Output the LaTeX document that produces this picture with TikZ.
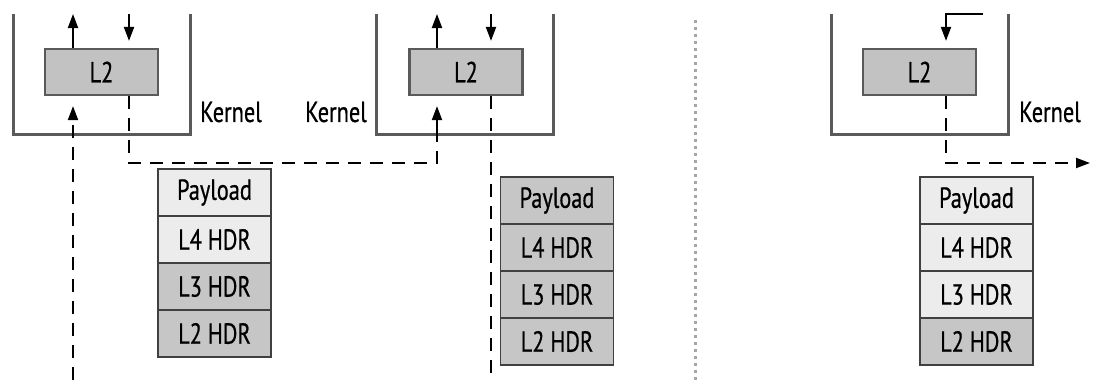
\documentclass[tikz,border=0pt]{standalone}
\usepackage{fontspec}
\setmainfont[FakeStretch=0.77,FakeBold=0.6]{PT Sans}
\usetikzlibrary{arrows.meta}
\definecolor{boxgray}{HTML}{C2C2C2}
\definecolor{hdrgray}{HTML}{C6C6C6}
\definecolor{paleback}{HTML}{ECECEC}
\definecolor{linegray}{HTML}{5A5A5A}

\begin{document}
\begin{tikzpicture}[x=.5pt,y=-.5pt,line width=.5pt,
  kern/.style={draw=linegray,line width=1.5pt},
  l2box/.style={draw=linegray,line width=1.1pt,fill=boxgray,minimum width=56.5pt,minimum height=23pt,inner sep=0pt,font=\fontsize{14.5}{16}\selectfont},
  hdr/.style={draw=black!75,line width=.9pt,minimum width=56.5pt,minimum height=23.5pt,inner sep=0pt,font=\fontsize{14.5}{16}\selectfont},
  lite/.style={hdr,fill=paleback},
  dark/.style={hdr,fill=hdrgray},
  klabel/.style={inner sep=0pt,font=\fontsize{14.5}{16}\selectfont},
  arr/.style={line width=1pt,-{Triangle[length=7pt,width=5pt]}},
  dsh/.style={dash pattern=on 6.5pt off 4.5pt,line width=1pt}]
\path[use as bounding box] (0,0) rectangle (1094,380);
% kernel boxes, open at the top
\draw[kern] (13,14) |- (190,134) -- (190,14);
\draw[kern] (376,14) |- (553,134) -- (553,14);
\draw[kern] (831,14) |- (1008,134) -- (1008,14);
\node[klabel] (kerna) at (231,112) {Kernel};
\node[klabel] (kernb) at (336,112) {Kernel};
\node[klabel] (kernc) at (1050,112) {Kernel};
% L2 boxes
\node[l2box] (l2a) at (101.5,72) {L2};
\node[l2box] (l2b) at (466,72) {L2};
\node[l2box] (l2c) at (919.5,72) {L2};
% packets
\node[lite] (pa1) at (214.5,192.5) {Payload};
\node[lite] (pa2) at (214.5,239.5) {L4 HDR};
\node[dark] (pa3) at (214.5,286.5) {L3 HDR};
\node[dark] (pa4) at (214.5,333.5) {L2 HDR};
\node[dark] (pb1) at (557,200.5) {Payload};
\node[dark] (pb2) at (557,247.5) {L4 HDR};
\node[dark] (pb3) at (557,294.5) {L3 HDR};
\node[dark] (pb4) at (557,341.5) {L2 HDR};
\node[lite] (pc1) at (976.5,200.5) {Payload};
\node[lite] (pc2) at (976.5,247.5) {L4 HDR};
\node[lite] (pc3) at (976.5,294.5) {L3 HDR};
\node[dark] (pc4) at (976.5,341.5) {L2 HDR};
% free ends
\coordinate (upa) at (73,14);
\coordinate (dna) at (129,14);
\coordinate (upb) at (437,14);
\coordinate (dnb) at (491,14);
\coordinate (topc) at (983,14);
\coordinate (dnc) at (946,14);
\coordinate (ina) at (73,380);
\coordinate (bend1) at (129,163);
\coordinate (bend2) at (437,163);
\coordinate (kinb) at (437,134);
\coordinate (outb) at (491,380);
\coordinate (outc) at (1090,163);
% arrows above the L2 boxes
\draw[arr] (l2a.north -| upa) -- (upa);
\draw[arr,shorten >=3.5pt] (dna) -- (l2a.north -| dna);
\draw[arr] (l2b.north -| upb) -- (upb);
\draw[arr,shorten >=3.5pt] (dnb) -- (l2b.north -| dnb);
\draw[arr,shorten >=3.5pt] (topc) -- (dnc) -- (l2c.north -| dnc);
% paths below
\draw[dsh,arr,shorten >=5pt] (ina) -- (l2a.south -| ina);
\draw[dsh] (l2a.south -| bend1) -- (bend1) -- (bend2) -- (kinb);
\draw[arr,shorten >=5pt] (kinb) -- (l2b.south -| kinb);
\draw[dsh] (l2b.south -| outb) -- (outb);
\draw[dsh,arr] (l2c.south -| dnc) |- (outc);
% separator
\draw[black!35,line width=1.5pt,dash pattern=on 1.5pt off 2pt] (695,20) -- (695,380);
\end{tikzpicture}
\end{document}
